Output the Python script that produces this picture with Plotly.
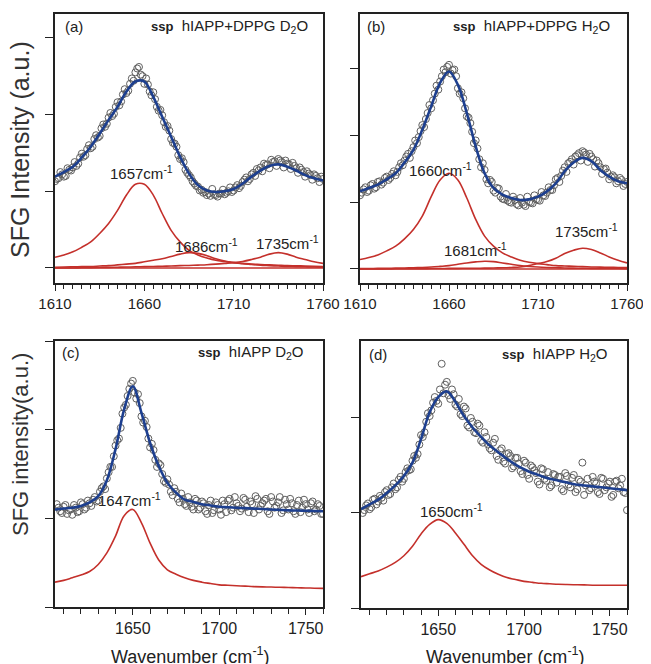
import plotly.graph_objects as go

# wavenumber grids (cm-1)
wn_even_top = list(range(1610, 1761, 2))
wn_odd_top = list(range(1611, 1760, 2))
wn_even_bot = list(range(1606, 1761, 2))
wn_odd_bot = list(range(1607, 1760, 2))
wn_fit_top = list(range(1610, 1761, 5))
wn_fit_bot = list(range(1605, 1761, 5))

# (a) hIAPP+DPPG D2O
a_even = [1.13, 1.17, 1.22, 1.20, 1.28, 1.31, 1.33, 1.44, 1.45, 1.55,
          1.56, 1.68, 1.70, 1.82, 1.84, 1.96, 1.98, 2.10, 2.12, 2.26,
          2.28, 2.40, 2.44, 2.60, 2.52, 2.40, 2.39, 2.25, 2.20, 2.05,
          1.99, 1.84, 1.79, 1.63, 1.58, 1.42, 1.38, 1.24, 1.18, 1.10,
          1.06, 1.02, 0.99, 0.97, 1.03, 0.95, 0.97, 1.02, 0.98, 1.05,
          1.01, 1.08, 1.07, 1.15, 1.13, 1.22, 1.20, 1.27, 1.26, 1.34,
          1.30, 1.38, 1.33, 1.40, 1.31, 1.36, 1.29, 1.33, 1.24, 1.28,
          1.19, 1.23, 1.15, 1.20, 1.12, 1.16]
a_odd = [1.16, 1.25, 1.19, 1.30, 1.27, 1.38, 1.36, 1.49, 1.47, 1.60,
         1.58, 1.73, 1.72, 1.87, 1.88, 2.02, 2.01, 2.16, 2.17, 2.33,
         2.31, 2.47, 2.55, 2.62, 2.50, 2.47, 2.30, 2.29, 2.10, 2.06,
         1.90, 1.85, 1.68, 1.62, 1.47, 1.43, 1.28, 1.21, 1.13, 1.07,
         1.01, 0.98, 0.95, 0.94, 0.96, 0.93, 0.97, 0.96, 1.00, 0.99,
         1.05, 1.04, 1.12, 1.18, 1.16, 1.24, 1.29, 1.31, 1.36, 1.35,
         1.41, 1.39, 1.42, 1.38, 1.40, 1.35, 1.37, 1.30, 1.31, 1.25,
         1.26, 1.21, 1.22, 1.17, 1.19]
a_fit = [1.19, 1.25, 1.32, 1.44, 1.58, 1.75, 1.93, 2.10, 2.30, 2.43, 2.43, 2.23, 1.97, 1.71, 1.45, 1.23,
         1.08, 1.01, 0.99, 1.00, 1.03, 1.10, 1.19, 1.27, 1.33, 1.35, 1.32, 1.27, 1.21, 1.17, 1.14]
a_1657 = [0.14, 0.17, 0.21, 0.27, 0.34, 0.45, 0.58, 0.75, 0.95, 1.09, 1.09, 0.95, 0.71, 0.49, 0.34, 0.23,
          0.17, 0.13, 0.10, 0.085, 0.07, 0.06, 0.05, 0.045, 0.04, 0.035, 0.03, 0.028, 0.025, 0.022, 0.02]
a_1686 = [0.01, 0.012, 0.015, 0.018, 0.02, 0.025, 0.03, 0.04, 0.05, 0.06, 0.08, 0.10, 0.12, 0.15, 0.18, 0.20,
          0.19, 0.16, 0.12, 0.09, 0.07, 0.055, 0.045, 0.035, 0.03, 0.025, 0.02, 0.018, 0.015, 0.012, 0.01]
a_1735 = [0.0, 0.0, 0.0, 0.002, 0.004, 0.006, 0.008, 0.01, 0.012, 0.015, 0.018, 0.02, 0.022, 0.025, 0.03, 0.033,
          0.037, 0.042, 0.05, 0.06, 0.07, 0.085, 0.11, 0.14, 0.18, 0.20, 0.18, 0.14, 0.11, 0.08, 0.06]

# (b) hIAPP+DPPG H2O
b_even = [1.10, 1.19, 1.15, 1.25, 1.20, 1.30, 1.26, 1.36, 1.33, 1.42,
          1.40, 1.52, 1.55, 1.68, 1.66, 1.82, 1.88, 2.06, 2.12, 2.33,
          2.40, 2.62, 2.68, 2.88, 2.94, 3.05, 2.97, 2.88, 2.62, 2.55,
          2.28, 2.18, 1.88, 1.80, 1.52, 1.48, 1.28, 1.30, 1.14, 1.20,
          1.05, 1.12, 1.00, 1.08, 0.97, 1.06, 0.96, 1.08, 0.99, 1.10,
          1.03, 1.15, 1.09, 1.22, 1.18, 1.34, 1.30, 1.47, 1.45, 1.60,
          1.56, 1.70, 1.62, 1.74, 1.60, 1.68, 1.53, 1.58, 1.42, 1.50,
          1.34, 1.40, 1.28, 1.36, 1.24, 1.30]
b_odd = [1.14, 1.22, 1.17, 1.27, 1.22, 1.31, 1.29, 1.38, 1.36, 1.46,
         1.45, 1.58, 1.62, 1.72, 1.76, 1.92, 1.97, 2.15, 2.24, 2.45,
         2.52, 2.74, 2.80, 2.98, 3.02, 2.92, 2.98, 2.70, 2.64, 2.40,
         2.26, 2.05, 1.92, 1.64, 1.58, 1.34, 1.33, 1.17, 1.21, 1.08,
         1.04, 1.02, 0.99, 1.03, 0.95, 0.99, 0.94, 1.00, 0.98, 1.04,
         1.02, 1.10, 1.14, 1.18, 1.25, 1.36, 1.39, 1.52, 1.58, 1.64,
         1.68, 1.73, 1.76, 1.71, 1.72, 1.64, 1.62, 1.52, 1.49, 1.44,
         1.38, 1.37, 1.31, 1.33, 1.27]
b_fit = [1.16, 1.21, 1.26, 1.34, 1.43, 1.59, 1.78, 2.08, 2.43, 2.78, 2.95, 2.75, 2.33, 1.83, 1.43, 1.21,
         1.11, 1.06, 1.03, 1.04, 1.08, 1.16, 1.28, 1.46, 1.59, 1.66, 1.61, 1.48, 1.38, 1.31, 1.28]
b_1660 = [0.14, 0.17, 0.21, 0.27, 0.34, 0.45, 0.59, 0.79, 1.08, 1.33, 1.43, 1.33, 1.06, 0.74, 0.49, 0.34,
          0.24, 0.18, 0.13, 0.10, 0.08, 0.065, 0.05, 0.045, 0.04, 0.035, 0.03, 0.027, 0.024, 0.022, 0.02]
b_1681 = [0.005, 0.006, 0.008, 0.01, 0.012, 0.015, 0.018, 0.022, 0.028, 0.038, 0.05, 0.07, 0.09, 0.105, 0.115, 0.11,
          0.09, 0.07, 0.05, 0.037, 0.028, 0.022, 0.017, 0.014, 0.012, 0.01, 0.009, 0.008, 0.007, 0.006, 0.005]
b_1735 = [0.0, 0.0, 0.0, 0.0, 0.002, 0.003, 0.004, 0.005, 0.006, 0.007, 0.008, 0.009, 0.01, 0.011, 0.012, 0.014,
          0.017, 0.022, 0.03, 0.05, 0.08, 0.11, 0.16, 0.23, 0.28, 0.31, 0.29, 0.24, 0.18, 0.13, 0.09]

# (c) hIAPP D2O
c_even = [1.16, 1.08, 1.13, 1.05, 1.10, 1.15, 1.07, 1.18, 1.10, 1.20,
          1.14, 1.24, 1.20, 1.34, 1.33, 1.52, 1.58, 1.82, 1.90, 2.18,
          2.28, 2.46, 2.55, 2.35, 2.30, 2.08, 2.03, 1.80, 1.77, 1.58,
          1.60, 1.42, 1.44, 1.30, 1.34, 1.22, 1.28, 1.16, 1.24, 1.13,
          1.22, 1.10, 1.19, 1.08, 1.15, 1.06, 1.18, 1.10, 1.20, 1.07,
          1.22, 1.12, 1.17, 1.08, 1.23, 1.13, 1.19, 1.06, 1.22, 1.14,
          1.20, 1.08, 1.24, 1.12, 1.18, 1.06, 1.21, 1.10, 1.17, 1.05,
          1.20, 1.12, 1.16, 1.06, 1.19, 1.10, 1.14, 1.05]
c_odd = [1.12, 1.06, 1.15, 1.09, 1.04, 1.12, 1.08, 1.16, 1.12, 1.17,
         1.21, 1.19, 1.30, 1.36, 1.45, 1.58, 1.70, 1.88, 2.02, 2.25,
         2.38, 2.52, 2.42, 2.40, 2.15, 2.10, 1.90, 1.84, 1.66, 1.62,
         1.50, 1.40, 1.38, 1.26, 1.30, 1.18, 1.22, 1.14, 1.18, 1.10,
         1.20, 1.12, 1.17, 1.05, 1.20, 1.09, 1.15, 1.04, 1.16, 1.20,
         1.09, 1.24, 1.14, 1.11, 1.21, 1.07, 1.16, 1.25, 1.10, 1.17,
         1.22, 1.05, 1.19, 1.14, 1.24, 1.09, 1.16, 1.22, 1.08, 1.15,
         1.07, 1.21, 1.10, 1.17, 1.08, 1.16, 1.05]
c_fit = [1.10, 1.11, 1.12, 1.14, 1.18, 1.25, 1.43, 1.78, 2.23, 2.49, 2.19, 1.85, 1.59, 1.40, 1.29, 1.21,
         1.185, 1.16, 1.145, 1.13, 1.125, 1.12, 1.115, 1.11, 1.105, 1.10, 1.095, 1.09, 1.088, 1.085, 1.083, 1.08]
c_1647 = [0.28, 0.30, 0.33, 0.36, 0.40, 0.48, 0.61, 0.80, 1.03, 1.10, 0.95, 0.72, 0.53, 0.42, 0.37, 0.33,
          0.30, 0.28, 0.265, 0.25, 0.245, 0.24, 0.235, 0.23, 0.227, 0.225, 0.222, 0.22, 0.217, 0.215, 0.212, 0.21]

# (d) hIAPP H2O
d_even = [1.00, 1.08, 1.04, 1.14, 1.09, 1.18, 1.13, 1.24, 1.20, 1.31,
          1.27, 1.38, 1.36, 1.47, 1.46, 1.60, 1.62, 1.82, 1.85, 2.05,
          2.08, 2.22, 2.15, 2.57, 2.35, 2.24, 2.30, 2.14, 2.20, 2.02,
          2.10, 1.90, 1.96, 1.84, 1.92, 1.74, 1.80, 1.68, 1.74, 1.60,
          1.66, 1.54, 1.62, 1.60, 1.49, 1.58, 1.44, 1.55, 1.40, 1.50,
          1.45, 1.33, 1.47, 1.36, 1.43, 1.29, 1.40, 1.38, 1.25, 1.42,
          1.30, 1.37, 1.22, 1.35, 1.53, 1.29, 1.24, 1.38, 1.31, 1.20,
          1.36, 1.27, 1.33, 1.19, 1.34, 1.29, 1.22, 1.03]
d_odd = [1.03, 1.10, 1.06, 1.15, 1.12, 1.16, 1.22, 1.19, 1.27, 1.25,
         1.35, 1.33, 1.43, 1.45, 1.55, 1.58, 1.72, 1.80, 1.96, 2.02,
         2.16, 2.18, 2.30, 2.26, 2.38, 2.20, 2.25, 2.12, 2.04, 2.12,
         1.92, 2.00, 1.85, 1.94, 1.76, 1.85, 1.72, 1.66, 1.78, 1.56,
         1.68, 1.52, 1.63, 1.47, 1.58, 1.52, 1.41, 1.53, 1.36, 1.48,
         1.42, 1.30, 1.46, 1.34, 1.27, 1.41, 1.32, 1.38, 1.23, 1.39,
         1.27, 1.40, 1.25, 1.33, 1.19, 1.36, 1.26, 1.33, 1.22, 1.37,
         1.24, 1.31, 1.17, 1.33, 1.26, 1.36, 1.21]
d_fit = [1.04, 1.09, 1.14, 1.21, 1.29, 1.39, 1.53, 1.78, 2.06, 2.22, 2.28, 2.17, 2.02, 1.90, 1.80, 1.71,
         1.64, 1.57, 1.51, 1.46, 1.42, 1.39, 1.36, 1.34, 1.32, 1.30, 1.29, 1.28, 1.27, 1.26, 1.25, 1.24]
d_1650 = [0.33, 0.36, 0.39, 0.43, 0.48, 0.55, 0.65, 0.78, 0.88, 0.93, 0.89, 0.79, 0.67, 0.55, 0.46, 0.40,
          0.355, 0.32, 0.30, 0.28, 0.27, 0.26, 0.255, 0.25, 0.247, 0.245, 0.243, 0.24, 0.24, 0.24, 0.24, 0.24]

BLUE = '#1d3f8f'
RED = '#c4302b'
FONT = 'Arial, Liberation Sans, sans-serif'

fig = go.Figure()

def add_panel(n, wn_even, even, wn_odd, odd, wn_fit, fit, comps, baseline):
    xa, ya = 'x' if n == 1 else 'x%d' % n, 'y' if n == 1 else 'y%d' % n
    if baseline:
        fig.add_trace(go.Scatter(x=[wn_fit[0], wn_fit[-1]], y=[0, 0], mode='lines', xaxis=xa, yaxis=ya,
                                 line=dict(color=RED, width=1.5), showlegend=False))
    for comp in comps:
        fig.add_trace(go.Scatter(x=wn_fit, y=comp, mode='lines', line_shape='spline', xaxis=xa, yaxis=ya,
                                 line=dict(color=RED, width=1.6), showlegend=False))
    for wx, wy in ((wn_even, even), (wn_odd, odd)):
        fig.add_trace(go.Scatter(x=wx, y=wy, mode='markers', xaxis=xa, yaxis=ya, showlegend=False,
                                 marker=dict(symbol='circle-open', size=7, color='#5f5f5f', line=dict(width=1))))
    fig.add_trace(go.Scatter(x=wn_fit, y=fit, mode='lines', line_shape='spline', xaxis=xa, yaxis=ya,
                             line=dict(color=BLUE, width=2.6), showlegend=False))

add_panel(1, wn_even_top, a_even, wn_odd_top, a_odd, wn_fit_top, a_fit, [a_1657, a_1686, a_1735], True)
add_panel(2, wn_even_top, b_even, wn_odd_top, b_odd, wn_fit_top, b_fit, [b_1660, b_1681, b_1735], True)
add_panel(3, wn_even_bot, c_even, wn_odd_bot, c_odd, wn_fit_bot, c_fit, [c_1647], False)
add_panel(4, wn_even_bot, d_even, wn_odd_bot, d_odd, wn_fit_bot, d_fit, [d_1650], False)

# the page puts the plot 8px in from the top-left corner
OFF = 8
W, H = 651 - OFF, 664 - OFF
def px_x(x):
    return (x - OFF) / W
def px_y(y):
    return 1 - (y - OFF) / H
def dom_x(l, r):
    return [px_x(l), px_x(r)]
def dom_y(t, b):
    return [px_y(b), px_y(t)]

ax = dict(showline=True, linecolor='#222', linewidth=1.5, mirror=True, showgrid=False, zeroline=False,
          automargin=False, ticks='outside', tickcolor='#222', tickwidth=1.2,
          tickfont=dict(size=15, color='#222', family=FONT))
top_x = dict(ax, range=[1610, 1760], tick0=1610, dtick=50, ticklen=6,
             minor=dict(dtick=5, tick0=1610, ticklen=4, ticks='outside', tickcolor='#222'))
bot_x = dict(ax, range=[1605, 1760], tick0=1650, dtick=50, ticklen=6,
             minor=dict(dtick=10, tick0=1610, ticklen=5, ticks='outside', tickcolor='#222'),
             tickfont=dict(size=16, color='#222', family=FONT))
y_ax = dict(ax, showticklabels=False, ticklen=8)

fig.update_layout(
    width=W, height=H, margin=dict(l=0, r=0, t=0, b=0, autoexpand=False),
    paper_bgcolor='white', plot_bgcolor='white',
    xaxis=dict(top_x, domain=dom_x(55, 323), anchor='y'),
    yaxis=dict(y_ax, domain=dom_y(14, 283), range=[-0.196, 3.31], tickvals=[0, 1, 2, 3], anchor='x'),
    xaxis2=dict(top_x, domain=dom_x(360, 627), anchor='y2'),
    yaxis2=dict(y_ax, domain=dom_y(14, 283), range=[-0.21, 3.81], tickvals=[0, 1, 2, 3], anchor='x2'),
    xaxis3=dict(bot_x, domain=dom_x(55, 323), anchor='y3'),
    yaxis3=dict(y_ax, domain=dom_y(341, 607), range=[0, 3.0], tickvals=[0, 1, 2, 3], anchor='x3'),
    xaxis4=dict(bot_x, domain=dom_x(361, 627), anchor='y4'),
    yaxis4=dict(y_ax, domain=dom_y(341, 608), range=[0, 2.81], tickvals=[0, 1, 2], anchor='x4'),
)

ann = []
txt = dict(color='#222', family=FONT)

def header(n, tag, label, tx, lx, ty):
    xr = 'x domain' if n == 1 else 'x%d domain' % n
    yr = 'y domain' if n == 1 else 'y%d domain' % n
    ann.append(dict(text=tag, x=tx, y=ty, xref=xr, yref=yr, xanchor='left', yanchor='middle',
                    showarrow=False, font=dict(size=15, **txt)))
    ann.append(dict(text='<span style="font-size:13px"><b>ssp</b></span>  ' + label, x=lx, y=ty, xref=xr, yref=yr,
                    xanchor='right', yanchor='middle', showarrow=False, font=dict(size=15, **txt)))

header(1, '(a)', 'hIAPP+DPPG D<sub>2</sub>O', 0.03, 0.95, 0.955)
header(2, '(b)', 'hIAPP+DPPG H<sub>2</sub>O', 0.02, 0.945, 0.955)
header(3, '(c)', 'hIAPP D<sub>2</sub>O', 0.02, 0.935, 0.955)
header(4, '(d)', 'hIAPP H<sub>2</sub>O', 0.023, 0.937, 0.95)

peaks = [(1, 1658.5, 1.25, '1657'), (1, 1695, 0.29, '1686'), (1, 1740, 0.33, '1735'),
         (2, 1655.5, 1.48, '1660'), (2, 1675, 0.29, '1681'), (2, 1737.5, 0.57, '1735'),
         (3, 1648, 1.21, '1647'), (4, 1658, 1.03, '1650')]
for n, px, py, lab in peaks:
    ann.append(dict(text=lab + 'cm<sup>-1</sup>', x=px, y=py, xref='x' if n == 1 else 'x%d' % n,
                    yref='y' if n == 1 else 'y%d' % n, showarrow=False, xanchor='center', yanchor='middle',
                    font=dict(size=15, **txt)))

ann.append(dict(text='SFG Intensity (a.u.)', x=px_x(20), y=px_y(150), xref='paper', yref='paper', textangle=-90,
                xanchor='center', yanchor='middle', showarrow=False, font=dict(size=25, color='#333', family=FONT)))
ann.append(dict(text='SFG intensity(a.u.)', x=px_x(20), y=px_y(445), xref='paper', yref='paper', textangle=-90,
                xanchor='center', yanchor='middle', showarrow=False, font=dict(size=22, color='#333', family=FONT)))
for cx in (190, 505):
    ann.append(dict(text='Wavenumber (cm<sup>-1</sup>)', x=px_x(cx), y=px_y(655), xref='paper', yref='paper',
                    xanchor='center', yanchor='middle', showarrow=False, font=dict(size=18, **txt)))

fig.update_layout(annotations=ann)
fig.write_html('out.html')
